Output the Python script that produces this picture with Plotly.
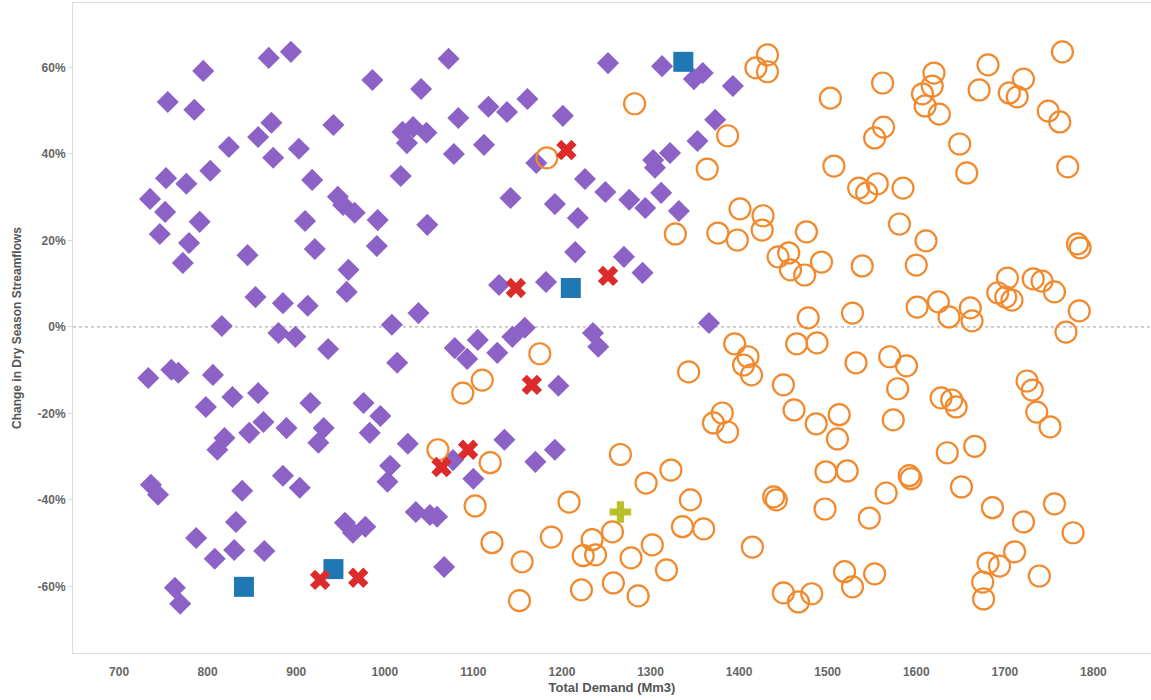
import plotly.graph_objects as go

# ---- data (Total Demand in Mm3, Change in Dry Season Streamflows in %) ----
purple_x = [795, 869, 894, 755, 785, 872, 857, 942, 824, 874, 903, 753, 776, 803, 918, 735, 752,
            947, 953, 966, 791, 910, 746, 1072, 986, 1041, 1252, 1161, 1117, 1138, 1083, 1201,
            1020, 1032, 1047, 1025, 1112, 1078, 1171, 1018, 1226, 1249, 1142, 1192, 992, 1048,
            1218, 1313, 1349, 1359, 1393, 1373, 1353, 1322, 1303, 1305, 1276, 1294, 1312, 1332,
            779, 772, 845, 921, 959, 957, 854, 885, 913, 816, 880, 899, 936, 733, 759, 767, 806,
            828, 857, 798, 916, 863, 847, 889, 931, 819, 925, 811, 991, 1215, 1129, 1182, 1270,
            1291, 1008, 1038, 1079, 1105, 1093, 1127, 1144, 1158, 1235, 1241, 1014, 1196, 976,
            995, 983, 1026, 1135, 1192, 1170, 1006, 1003, 1077, 1100, 1035, 1051, 1059, 955, 964,
            978, 1067, 1366, 736, 744, 885, 904, 839, 832, 787, 830, 808, 864, 763, 769]
purple_y = [59.2, 62.2, 63.6, 52.0, 50.2, 47.2, 43.9, 46.7, 41.6, 39.1, 41.2, 34.4, 33.1, 36.1,
            34.0, 29.6, 26.6, 30.1, 28.2, 26.4, 24.3, 24.5, 21.5, 62.0, 57.1, 55.0, 61.0, 52.7,
            50.9, 49.7, 48.3, 48.8, 45.1, 46.2, 44.9, 42.5, 42.1, 40.0, 37.9, 34.9, 34.2, 31.2,
            29.8, 28.4, 24.7, 23.6, 25.2, 60.3, 57.3, 58.7, 55.7, 47.9, 43.0, 40.2, 38.6, 36.8,
            29.4, 27.5, 31.0, 26.8, 19.4, 14.8, 16.6, 18.0, 13.2, 8.1, 6.9, 5.5, 4.9, 0.2, -1.4,
            -2.3, -5.1, -11.8, -9.9, -10.6, -11.1, -16.2, -15.3, -18.5, -17.6, -22.0, -24.5,
            -23.4, -23.4, -25.7, -26.8, -28.4, 18.7, 17.3, 9.7, 10.4, 16.2, 12.5, 0.5, 3.2, -4.9,
            -3.0, -7.4, -6.0, -2.3, -0.2, -1.4, -4.6, -8.3, -13.6, -17.6, -20.6, -24.5, -27.0,
            -26.1, -28.4, -31.2, -32.1, -35.8, -30.8, -35.1, -42.8, -43.5, -43.9, -45.3, -47.6,
            -46.2, -55.5, 0.9, -36.5, -38.8, -34.4, -37.2, -37.9, -45.1, -48.8, -51.6, -53.6,
            -51.8, -60.3, -64.0]

orange_x = [1183, 1432, 1419, 1432, 1282, 1503, 1387, 1364, 1507, 1535, 1544, 1556, 1401, 1427,
            1765, 1562, 1620, 1618, 1607, 1610, 1626, 1681, 1671, 1721, 1705, 1714, 1749, 1762,
            1563, 1553, 1649, 1657, 1771, 1585, 1581, 1328, 1376, 1398, 1426, 1476, 1444, 1456,
            1458, 1474, 1493, 1539, 1478, 1528, 1395, 1410, 1405, 1414, 1465, 1488, 1343, 1450,
            1532, 1462, 1381, 1371, 1387, 1487, 1513, 1511, 1266, 1175, 1110, 1088, 1060, 1611,
            1600, 1782, 1785, 1703, 1692, 1701, 1708, 1732, 1742, 1756, 1601, 1625, 1637, 1661,
            1663, 1784, 1769, 1570, 1589, 1579, 1628, 1640, 1645, 1725, 1731, 1736, 1751, 1574,
            1635, 1666, 1119, 1102, 1208, 1121, 1188, 1155, 1234, 1224, 1238, 1257, 1222, 1258,
            1152, 1323, 1295, 1345, 1336, 1360, 1302, 1278, 1318, 1286, 1439, 1442, 1415, 1498,
            1522, 1497, 1547, 1566, 1450, 1467, 1482, 1519, 1528, 1553, 1592, 1594, 1651, 1686,
            1721, 1756, 1777, 1711, 1681, 1694, 1675, 1676, 1739]
orange_y = [39.1, 62.9, 59.9, 59.0, 51.6, 52.9, 44.2, 36.5, 37.2, 32.1, 31.0, 33.1, 27.3, 25.7,
            63.6, 56.4, 58.7, 55.7, 53.9, 51.1, 49.2, 60.6, 54.8, 57.3, 54.1, 53.2, 49.9, 47.4,
            46.2, 43.7, 42.3, 35.6, 37.0, 32.1, 23.8, 21.5, 21.7, 20.1, 22.4, 22.0, 16.2, 17.1,
            13.2, 12.0, 15.0, 14.1, 2.1, 3.2, -3.9, -6.9, -8.8, -11.1, -3.9, -3.7, -10.4, -13.4,
            -8.3, -19.2, -19.9, -22.2, -24.3, -22.4, -20.3, -25.9, -29.5, -6.2, -12.3, -15.3,
            -28.4, 19.9, 14.3, 19.2, 18.3, 11.3, 7.9, 6.9, 6.2, 11.1, 10.6, 8.1, 4.6, 5.8, 2.3,
            4.4, 1.4, 3.7, -1.2, -6.9, -9.0, -14.3, -16.4, -16.9, -18.5, -12.5, -14.6, -19.7,
            -23.1, -21.5, -29.1, -27.6, -31.4, -41.4, -40.5, -49.9, -48.6, -54.3, -49.2, -52.9,
            -52.7, -47.4, -60.8, -59.2, -63.3, -33.1, -36.1, -40.0, -46.2, -46.7, -50.4, -53.4,
            -56.2, -62.2, -39.3, -40.0, -50.9, -33.5, -33.3, -42.1, -44.2, -38.4, -61.5, -63.6,
            -61.7, -56.6, -60.1, -57.1, -34.4, -35.1, -37.0, -41.8, -45.1, -40.9, -47.6, -52.0,
            -54.6, -55.3, -59.0, -62.9, -57.6]

blue_x = [1337, 1210, 841, 942]
blue_y = [61.3, 9.0, -60.1, -56.0]

red_x = [1205, 1148, 1252, 1166, 1064, 1094, 927, 970]
red_y = [40.9, 9.0, 11.8, -13.4, -32.4, -28.4, -58.5, -58.0]

green_x = [1266]
green_y = [-42.8]

x_ticks = [700, 800, 900, 1000, 1100, 1200, 1300, 1400, 1500, 1600, 1700, 1800]
y_ticks = [-60, -40, -20, 0, 20, 40, 60]
y_tick_text = ["-60%", "-40%", "-20%", "0%", "20%", "40%", "60%"]

# ---- figure ----
fig = go.Figure()
fig.add_trace(go.Scatter(x=purple_x, y=purple_y, mode="markers",
                         marker=dict(symbol="diamond", size=17, color="#8d62c6")))
fig.add_trace(go.Scatter(x=orange_x, y=orange_y, mode="markers",
                         marker=dict(symbol="circle-open", size=21, color="#f2892c",
                                     line=dict(width=2.2, color="#f2892c"))))
fig.add_trace(go.Scatter(x=blue_x, y=blue_y, mode="markers",
                         marker=dict(symbol="square", size=20, color="#1f77b4")))
fig.add_trace(go.Scatter(x=red_x, y=red_y, mode="markers",
                         marker=dict(symbol="x", size=18, color="#dd2a2a")))
fig.add_trace(go.Scatter(x=green_x, y=green_y, mode="markers",
                         marker=dict(symbol="cross", size=18, color="#b9c02a")))

fig.add_shape(type="line", xref="paper", x0=0, x1=1, yref="y", y0=0, y1=0,
              line=dict(color="#9a9a9a", width=1, dash="dot"), layer="below")

tick_font = dict(family="Liberation Sans, Arial, sans-serif", size=12, color="#666666", weight="bold")
title_font = dict(family="Liberation Sans, Arial, sans-serif", size=12, color="#555555", weight="bold")

fig.update_layout(
    width=1151, height=700,
    margin=dict(l=73, r=0, t=3, b=47, autoexpand=False),
    paper_bgcolor="white", plot_bgcolor="white",
    showlegend=False,
    xaxis=dict(range=[648, 1865], tickvals=x_ticks, showgrid=False, zeroline=False,
               showline=True, linecolor="#dcdcdc", linewidth=1, mirror=True,
               ticks="", tickfont=tick_font, ticklabelstandoff=8,
               title=dict(text="Total Demand (Mm3)", font=dict(title_font, size=13), standoff=4)),
    yaxis=dict(range=[-75.4, 74.9], tickvals=y_ticks, ticktext=y_tick_text,
               showgrid=False, zeroline=False, showline=True, linecolor="#dcdcdc",
               linewidth=1, ticks="outside", ticklen=4, tickcolor="#dcdcdc",
               tickfont=tick_font,
               title=dict(text="Change in Dry Season Streamflows", font=title_font, standoff=13)),
)

fig.write_html("out.html", config={"displayModeBar": False},
               post_script="document.body.style.margin='0px';")
